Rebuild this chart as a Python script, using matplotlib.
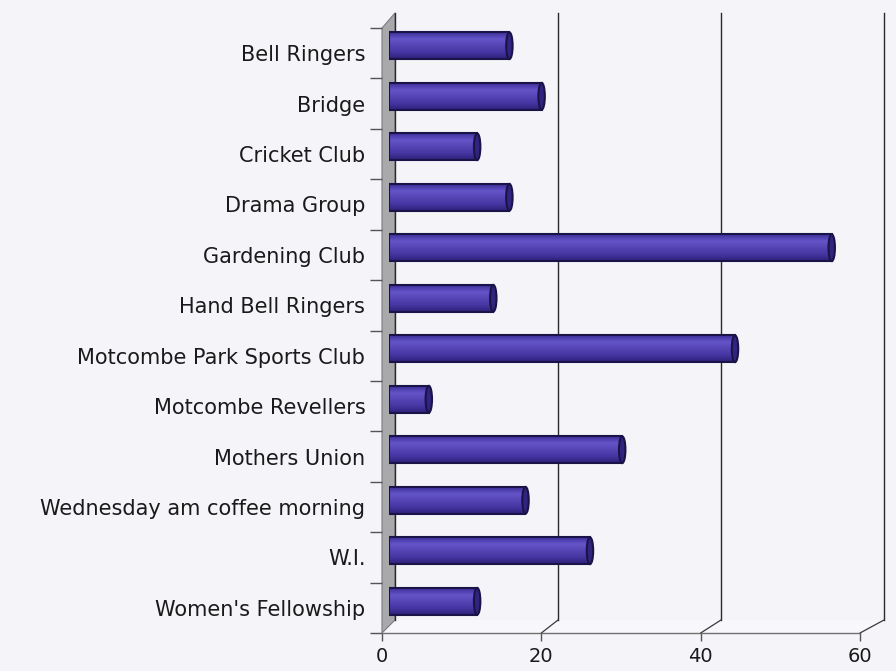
import numpy as np
import matplotlib.pyplot as plt
from matplotlib.patches import Ellipse, Polygon, ConnectionPatch
from matplotlib.colors import LinearSegmentedColormap

# Club membership counts
groups = ['Bell Ringers', 'Bridge', 'Cricket Club', 'Drama Group', 'Gardening Club',
          'Hand Bell Ringers', 'Motcombe Park Sports Club', 'Motcombe Revellers',
          'Mothers Union', 'Wednesday am coffee morning', 'W.I.', "Women's Fellowship"]
members = [15, 19, 11, 15, 55, 13, 43, 5, 29, 17, 25, 11]
xticks = [0, 20, 40, 60]

W, H = 896, 671
bg = '#f4f4f9'
fig = plt.figure(figsize=(W / 100, H / 100), dpi=100, facecolor=bg)

# pixel boxes (left, top, right, bottom) of the fake 3D planes
front = (382, 28, 860, 633)
back = (395, 13, 884, 620)
mid = tuple((f + b) / 2 for f, b in zip(front, back))


def box(l, t, r, b):
    return [l / W, 1 - b / H, (r - l) / W, (b - t) / H]


def fpt(x, y):
    return (x / W, 1 - y / H)


# side wall and floor
wall = Polygon([fpt(front[0], front[1]), fpt(back[0], back[1]),
                fpt(back[0], back[3]), fpt(front[0], front[3])],
               closed=True, transform=fig.transFigure, facecolor='#a9a9ab',
               edgecolor='#7c7c80', linewidth=0.8, zorder=0)
floor = Polygon([fpt(front[0], front[3]), fpt(front[2], front[3]),
                 fpt(back[2], back[3]), fpt(back[0], back[3])],
                closed=True, transform=fig.transFigure, facecolor='#f8f8fc',
                edgecolor='none', zorder=0)
fig.add_artist(floor)
fig.add_artist(wall)

ax_back = fig.add_axes(box(*back))
ax_bar = fig.add_axes(box(*mid))
ax_front = fig.add_axes(box(*front))

ypos = np.arange(len(groups))
for ax in (ax_back, ax_bar, ax_front):
    ax.set_facecolor('none')
    ax.set_xlim(0, 60)
    ax.set_ylim(len(groups) - 0.5, -0.5)
    for s in ax.spines.values():
        s.set_visible(False)

# back wall gridlines
ax_back.set_xticks(xticks)
ax_back.set_yticks([])
ax_back.tick_params(axis='x', length=0, labelbottom=False)
ax_back.grid(axis='x', color='#2a2a2a', linewidth=1.0)
for gl in ax_back.get_xgridlines():
    gl.set_clip_on(False)

# floor diagonals from back gridlines to front ticks
for v in xticks[1:]:
    con = ConnectionPatch(xyA=(v, len(groups) - 0.5), coordsA=ax_back.transData,
                          xyB=(v, len(groups) - 0.5), coordsB=ax_front.transData,
                          color='#3a3a3a', linewidth=0.9)
    fig.add_artist(con)

# cylinder bars
h = 0.53
cyl = LinearSegmentedColormap.from_list(
    'cyl', ['#3d2f99', '#6454c8', '#5545b4', '#4636a3', '#2c2078'])
grad = np.linspace(0, 1, 64).reshape(-1, 1)
ax_bar.set_xticks([])
ax_bar.set_yticks([])
outline = ax_bar.barh(ypos, members, height=h, color='none',
                      edgecolor='#1a1348', linewidth=1.5, zorder=3)
for rect, v, y in zip(outline, members, ypos):
    left = Ellipse((0, y), width=0.8, height=h, facecolor='#3d2f99',
                   edgecolor='#1a1348', linewidth=1.5, zorder=1)
    ax_bar.add_patch(left)
    im = ax_bar.imshow(grad, cmap=cyl, aspect='auto', interpolation='bilinear',
                       extent=[0, v, y + h / 2, y - h / 2], zorder=2)
    im.set_clip_path(rect)
    cap = Ellipse((v, y), width=0.8, height=h, facecolor='#30247f',
                  edgecolor='#1a1348', linewidth=1.5, zorder=4)
    ax_bar.add_patch(cap)
ax_bar.set_xlim(0, 60)
ax_bar.set_ylim(len(groups) - 0.5, -0.5)

# front plane: category labels, ticks and floor edge
ax_front.spines['bottom'].set_visible(True)
ax_front.spines['bottom'].set_color('#707070')
ax_front.spines['bottom'].set_linewidth(1.0)
ax_front.set_yticks(ypos, groups)
ax_front.set_yticks(np.arange(-0.5, len(groups), 1), minor=True)
ax_front.tick_params(axis='y', which='major', length=0, pad=12,
                     labelsize=15, labelcolor='#1a1a1a')
ax_front.tick_params(axis='y', which='minor', length=9, width=1.0, color='#555555')
ax_front.set_xticks(xticks)
ax_front.tick_params(axis='x', length=6, width=1.0, color='#555555', pad=4,
                     labelsize=14, labelcolor='#1a1a1a')
for lab in ax_front.get_yticklabels() + ax_front.get_xticklabels():
    lab.set_fontfamily('DejaVu Sans')

fig.savefig('out.png', dpi=100, facecolor=bg)
